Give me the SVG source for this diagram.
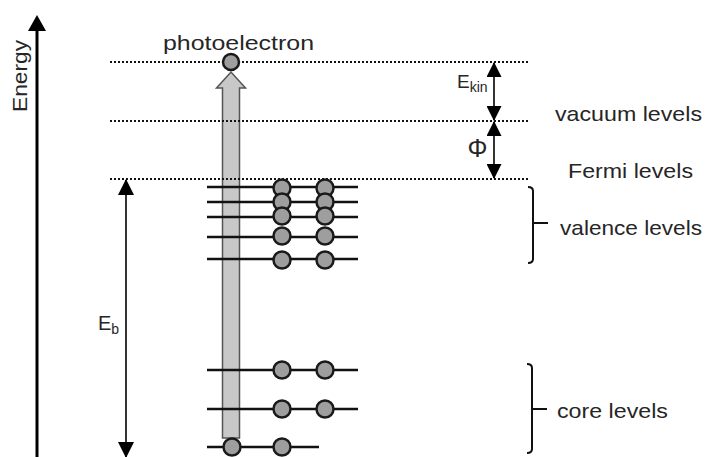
<svg xmlns="http://www.w3.org/2000/svg" width="707" height="457" viewBox="0 0 707 457">
<defs>
<style>
.t{font-family:"Liberation Sans","Open Sans",sans-serif;fill:#262626;font-size:21px}
.sub{font-size:14px}
.lvl{stroke:#111;stroke-width:2.5;fill:none}
.dot{stroke:#111;stroke-width:2;stroke-dasharray:2 2;fill:none}
.el{fill:#9e9e9e;stroke:#1a1a1a;stroke-width:2.5}
.thin{stroke:#000;stroke-width:1.6;fill:none}
.br{stroke:#111;stroke-width:2;fill:none}
</style>
<marker id="ah" viewBox="0 0 15 15" refX="14" refY="7.5" markerWidth="15" markerHeight="15" markerUnits="userSpaceOnUse" orient="auto-start-reverse">
<path d="M0,0 L15,7.5 L0,15 Z" fill="#000"/>
</marker>
<marker id="ahb" viewBox="0 0 16 16" refX="15" refY="8" markerWidth="16" markerHeight="16" markerUnits="userSpaceOnUse" orient="auto-start-reverse">
<path d="M0,0 L16,8 L0,16 Z" fill="#000"/>
</marker>
</defs>

<g id="energy-axis">
<line x1="37" y1="457" x2="37" y2="28" stroke="#000" stroke-width="3"/>
<path d="M37,15 L46,31 L28,31 Z" fill="#000"/>
<text class="t" transform="translate(27,76) rotate(-90)" text-anchor="middle" textLength="72" lengthAdjust="spacingAndGlyphs" style="font-size:20px">Energy</text>
</g>

<g id="photon-arrow">
<path d="M222.5,438 L222.5,88 L216.5,88 L231,72 L245.5,88 L239.5,88 L239.5,438 Z" fill="#c8c8c8" stroke="#555" stroke-width="1.5"/>
</g>

<g id="dotted-levels">
<line class="dot" x1="110" y1="62" x2="529" y2="62"/>
<line class="dot" x1="110" y1="121" x2="529" y2="121"/>
<line class="dot" x1="110" y1="179" x2="529" y2="179"/>
</g>

<g id="valence-levels">
<line class="lvl" x1="207" y1="187" x2="358" y2="187"/>
<line class="lvl" x1="207" y1="202" x2="358" y2="202"/>
<line class="lvl" x1="207" y1="217" x2="358" y2="217"/>
<line class="lvl" x1="207" y1="237" x2="358" y2="237"/>
<line class="lvl" x1="207" y1="259" x2="358" y2="259"/>
<circle class="el" cx="282" cy="188" r="8.5"/>
<circle class="el" cx="325" cy="188" r="8.5"/>
<circle class="el" cx="282" cy="202" r="8.5"/>
<circle class="el" cx="325" cy="202" r="8.5"/>
<circle class="el" cx="282" cy="216" r="8.5"/>
<circle class="el" cx="325" cy="216" r="8.5"/>
<circle class="el" cx="282" cy="236" r="8.5"/>
<circle class="el" cx="325" cy="236" r="8.5"/>
<circle class="el" cx="282" cy="260" r="8.5"/>
<circle class="el" cx="325" cy="260" r="8.5"/>
</g>

<g id="core-levels">
<line class="lvl" x1="207" y1="370" x2="358" y2="370"/>
<line class="lvl" x1="207" y1="409" x2="358" y2="409"/>
<line class="lvl" x1="207" y1="447" x2="319" y2="447"/>
<circle class="el" cx="282" cy="370" r="8.5"/>
<circle class="el" cx="325" cy="370" r="8.5"/>
<circle class="el" cx="282" cy="409" r="8.5"/>
<circle class="el" cx="325" cy="409" r="8.5"/>
<circle class="el" cx="232" cy="447" r="8.5"/>
<circle class="el" cx="282" cy="447" r="8.5"/>
</g>

<g id="photoelectron">
<circle class="el" cx="231" cy="62" r="8"/>
<text class="t" x="163" y="50" textLength="151" lengthAdjust="spacingAndGlyphs">photoelectron</text>
</g>

<g id="connectors">
<line class="thin" x1="494" y1="63" x2="494" y2="120" marker-start="url(#ah)" marker-end="url(#ah)"/>
<line class="thin" x1="494" y1="122" x2="494" y2="178" marker-start="url(#ah)" marker-end="url(#ah)"/>
<line class="thin" x1="126" y1="180" x2="126" y2="457" marker-start="url(#ahb)" marker-end="url(#ahb)"/>
<path class="br" d="M528,187 Q533,187 533,191 L533,259 Q533,263 528,263 M533,223 L548,223"/>
<path class="br" d="M527,364 Q532,364 532,368 L532,449 Q532,453 527,453 M532,409 L547,409"/>
</g>

<g id="ekin-label">
<text class="t" x="457" y="88" style="font-size:19px">E<tspan class="sub" dy="4">kin</tspan></text>
</g>
<g id="phi-label">
<text class="t" x="477.5" y="157" text-anchor="middle" style="font-size:25px">Φ</text>
</g>
<g id="eb-label">
<text class="t" x="98" y="330" style="font-size:20px">E<tspan class="sub" dy="4">b</tspan></text>
</g>
<g id="vacuum-label">
<text class="t" x="555" y="121" textLength="147" lengthAdjust="spacingAndGlyphs">vacuum levels</text>
</g>
<g id="fermi-label">
<text class="t" x="568" y="178" textLength="125" lengthAdjust="spacingAndGlyphs">Fermi levels</text>
</g>
<g id="valence-label">
<text class="t" x="560" y="235" textLength="142" lengthAdjust="spacingAndGlyphs">valence levels</text>
</g>
<g id="core-label">
<text class="t" x="557" y="418" textLength="111" lengthAdjust="spacingAndGlyphs">core levels</text>
</g>
</svg>
